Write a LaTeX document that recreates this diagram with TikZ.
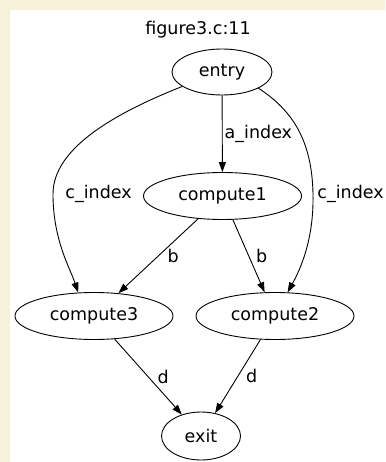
\documentclass[tikz,border=0pt]{standalone}
\usepackage{fontspec}
\setmainfont{DejaVu Sans}
\usetikzlibrary{shapes.geometric, arrows.meta, positioning}
\definecolor{pagebg}{HTML}{F7F1DA}

\begin{document}
\begin{tikzpicture}[
  x=1pt, y=-1pt,
  >={Triangle[length=10pt, width=7pt]},
  font=\fontsize{17.5}{20}\selectfont,
  block/.style={ellipse, draw, line width=0.9pt, minimum width=158pt, minimum height=47pt, inner sep=0pt},
  lbl/.style={inner sep=0pt},
  flow/.style={->, line width=0.9pt},
]

  % page and frame
  \fill[pagebg] (0,0) rectangle (385,462);
  \fill[white] (10,10) rectangle (385,462);
  \useasboundingbox (0,0) rectangle (385,462);

  \node[lbl] (title) at (198,30) {figure3.c:11};

  \node[block, minimum width=100pt, minimum height=46pt] (entry) at (222,72) {entry};
  \node[block] (compute1) at (222.5,196) {compute1};
  \node[block] (compute3) at (94,316) {compute3};
  \node[block] (compute2) at (275,316) {compute2};
  \node[block, minimum width=79pt, minimum height=48pt] (exit) at (201,436) {exit};

  \draw[flow] (entry) -- node[lbl, right=2pt]{a\_index} (compute1);
  \draw[flow] (entry.200) .. controls (110,115) and (53,150) .. (53,194)
    node[lbl, right=12pt]{c\_index}
    .. controls (53,240) and (70,268) .. (compute3.124);
  \draw[flow] (entry.336) .. controls (292,110) and (312,140) .. (313,194)
    node[lbl, right=4pt]{c\_index}
    .. controls (314,240) and (300,270) .. (compute2.62);
  \draw[flow] (compute1) -- node[lbl, right=9pt]{b} (compute3);
  \draw[flow] (compute1) -- node[lbl, right=7pt]{b} (compute2);
  \draw[flow] (compute3) -- node[lbl, right=9pt]{d} (exit);
  \draw[flow] (compute2) -- node[lbl, right=8pt]{d} (exit);

\end{tikzpicture}
\end{document}
